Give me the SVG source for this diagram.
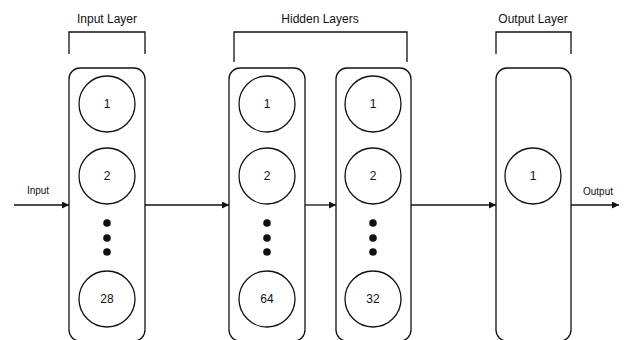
<svg xmlns="http://www.w3.org/2000/svg" width="624" height="340" viewBox="0 0 624 340">
<defs>
<marker id="arr" viewBox="0 0 10 10" refX="10" refY="5" markerWidth="7" markerHeight="7" markerUnits="userSpaceOnUse" orient="auto">
<path d="M0,0 L10,5 L0,10 Z" fill="#111"/>
</marker>
</defs>
<style>
.box{fill:none;stroke:#111;stroke-width:1.3}
.neuron{fill:#fff;stroke:#111;stroke-width:1.3}
.br{fill:none;stroke:#111;stroke-width:1.3}
.dot{fill:#111}
.lbl{font-family:"Liberation Sans",Arial,sans-serif;font-size:12px;fill:#111;text-anchor:middle}
.num{font-family:"Liberation Sans",Arial,sans-serif;font-size:12px;fill:#111;text-anchor:middle;dominant-baseline:central}
.io{font-family:"Liberation Sans",Arial,sans-serif;font-size:10px;fill:#111;text-anchor:middle}
.edge{fill:none;stroke:#111;stroke-width:1.3;marker-end:url(#arr)}
</style>
<rect width="624" height="340" fill="#fff"/>

<g id="labels">
<text class="lbl" x="107" y="23">Input Layer</text>
<path class="br" d="M69,54 V32 H145 V54"/>
<text class="lbl" x="320" y="23">Hidden Layers</text>
<path class="br" d="M234,62 V32 H407 V62"/>
<text class="lbl" x="533" y="23">Output Layer</text>
<path class="br" d="M496,54 V32 H571 V54"/>
</g>

<g id="input-layer">
<rect class="box" x="69" y="68" width="76" height="273" rx="11"/>
<circle class="neuron" cx="107" cy="104" r="28"/><text class="num" x="107" y="104">1</text>
<circle class="neuron" cx="107" cy="176" r="28"/><text class="num" x="107" y="176">2</text>
<circle class="dot" cx="107" cy="223" r="3.8"/><circle class="dot" cx="107" cy="238" r="3.8"/><circle class="dot" cx="107" cy="252" r="3.8"/>
<circle class="neuron" cx="107" cy="299" r="28"/><text class="num" x="107" y="299">28</text>
</g>

<g id="hidden-layer-1">
<rect class="box" x="229" y="68" width="76" height="273" rx="11"/>
<circle class="neuron" cx="267" cy="104" r="28"/><text class="num" x="267" y="104">1</text>
<circle class="neuron" cx="267" cy="176" r="28"/><text class="num" x="267" y="176">2</text>
<circle class="dot" cx="267" cy="223" r="3.8"/><circle class="dot" cx="267" cy="238" r="3.8"/><circle class="dot" cx="267" cy="252" r="3.8"/>
<circle class="neuron" cx="267" cy="299" r="28"/><text class="num" x="267" y="299">64</text>
</g>

<g id="hidden-layer-2">
<rect class="box" x="336" y="68" width="75" height="273" rx="11"/>
<circle class="neuron" cx="373" cy="104" r="28"/><text class="num" x="373" y="104">1</text>
<circle class="neuron" cx="373" cy="176" r="28"/><text class="num" x="373" y="176">2</text>
<circle class="dot" cx="373" cy="223" r="3.8"/><circle class="dot" cx="373" cy="238" r="3.8"/><circle class="dot" cx="373" cy="252" r="3.8"/>
<circle class="neuron" cx="373" cy="299" r="28"/><text class="num" x="373" y="299">32</text>
</g>

<g id="output-layer">
<rect class="box" x="496" y="68" width="75" height="273" rx="11"/>
<circle class="neuron" cx="533" cy="176" r="28"/><text class="num" x="533" y="176">1</text>
</g>

<g id="connectors">
<path class="edge" d="M14,205 H69"/>
<text class="io" x="38" y="194">Input</text>
<path class="edge" d="M145,205 H229"/>
<path class="edge" d="M305,205 H336"/>
<path class="edge" d="M411,205 H496"/>
<path class="edge" d="M571,205 H619"/>
<text class="io" x="598" y="195">Output</text>
</g>
</svg>
